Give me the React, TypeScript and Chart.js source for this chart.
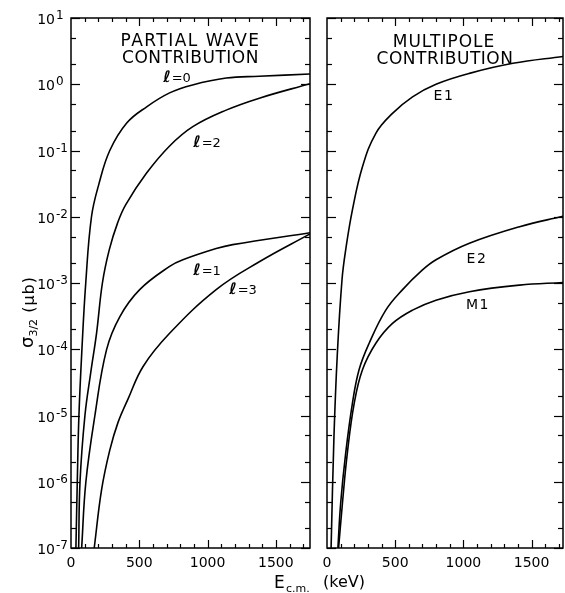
import React, { useEffect, useRef } from 'react';
import { Chart, registerables } from 'chart.js';

Chart.register(...registerables);

// ---- Data: E_cm (keV) vs sigma_3/2 (microbarn) ----
// Partial wave contributions
const L0_E = [36, 46, 58, 80, 108, 150, 205, 284, 408, 554, 722, 890, 1137, 1378, 1750];
const L0_S = [1e-7, 1e-6, 1e-5, 1e-4, 1e-3, 1e-2, 0.0316, 0.1, 0.26, 0.457, 0.741, 0.977, 1.24, 1.32, 1.43];
const L2_E = [56, 66, 102, 144, 187, 230, 280, 340, 400, 552, 722, 892, 1136, 1379, 1750];
const L2_S = [1e-7, 1e-6, 1e-5, 4.37e-5, 1.74e-4, 1e-3, 3.16e-3, 7.94e-3, 0.0151, 0.0452, 0.117, 0.229, 0.407, 0.617, 1.02];
const L1_E = [78, 109, 175, 260, 357, 503, 722, 819, 1063, 1184, 1750];
const L1_S = [1e-7, 1e-6, 1e-5, 9.8e-5, 3.09e-4, 7.94e-4, 1.78e-3, 2.24e-3, 3.31e-3, 3.8e-3, 5.75e-3];
const L3_E = [170, 224, 284, 345, 418, 528, 722, 1063, 1379, 1750];
const L3_S = [1e-7, 7.6e-7, 3.0e-6, 7.94e-6, 1.78e-5, 5.5e-5, 1.74e-4, 7.94e-4, 2.09e-3, 5.5e-3];

// Multipole contributions
const E1_E = [30, 51, 76, 110, 137, 186, 260, 358, 480, 627, 799, 1044, 1363, 1730];
const E1_S = [1e-7, 4.8e-6, 8.7e-5, 1.12e-3, 3.16e-3, 0.0126, 0.0569, 0.182, 0.363, 0.646, 1.0, 1.46, 2.07, 2.63];
const E2_E = [80, 100, 137, 186, 235, 309, 431, 554, 690, 799, 1044, 1412, 1730];
const E2_S = [1e-7, 4.7e-7, 2.7e-6, 1.51e-5, 4.9e-5, 1.23e-4, 3.89e-4, 7.94e-4, 1.51e-3, 2.24e-3, 3.98e-3, 7.08e-3, 0.0102];
const M1_E = [85, 113, 149, 199, 260, 358, 480, 627, 799, 1044, 1412, 1730];
const M1_S = [1e-7, 4.7e-7, 2.7e-6, 1.51e-5, 4.9e-5, 1.23e-4, 2.45e-4, 3.89e-4, 5.5e-4, 7.4e-4, 9.3e-4, 1.02e-3];

// Axes
const Y_MIN = 1e-7;
const Y_MAX = 10;
const Y_EXPONENTS = [1, 0, -1, -2, -3, -4, -5, -6, -7];
const X_TICKS = [0, 500, 1000, 1500];
const X_MAX_LEFT = 1750;
const X_MAX_RIGHT = 1730;

// Text
const LEFT_TITLE = ['PARTIAL WAVE', 'CONTRIBUTION'];
const RIGHT_TITLE = ['MULTIPOLE', 'CONTRIBUTION'];
const LEFT_LABELS = [
  { l: '0', x: 177, y: 82 },
  { l: '2', x: 207, y: 147 },
  { l: '1', x: 207, y: 275 },
  { l: '3', x: 243, y: 294 },
];
const RIGHT_LABELS = [
  { t: 'E1', x: 444, y: 100 },
  { t: 'E2', x: 477, y: 263 },
  { t: 'M1', x: 478, y: 309 },
];

const FONT = '"DejaVu Sans", "Liberation Sans", sans-serif';

function line(ctx: CanvasRenderingContext2D, x1: number, y1: number, x2: number, y2: number) {
  ctx.beginPath();
  ctx.moveTo(x1, y1);
  ctx.lineTo(x2, y2);
  ctx.stroke();
}

function frameAndTicks(chart: any, xMax: number) {
  const { ctx, chartArea: a, scales } = chart;
  const x = scales.x;
  const y = scales.y;
  ctx.save();
  ctx.strokeStyle = '#000';
  ctx.lineWidth = 1.5;
  ctx.strokeRect(a.left, a.top, a.right - a.left, a.bottom - a.top);
  ctx.lineWidth = 1.2;
  for (let d = -7; d <= 1; d++) {
    const py = Math.round(y.getPixelForValue(Math.pow(10, d))) + 0.5;
    line(ctx, a.left, py, a.left + 9, py);
    line(ctx, a.right - 9, py, a.right, py);
    if (d < 1) {
      for (const m of [2, 5]) {
        const p = Math.round(y.getPixelForValue(m * Math.pow(10, d))) + 0.5;
        line(ctx, a.left, p, a.left + 5, p);
        line(ctx, a.right - 5, p, a.right, p);
      }
    }
  }
  for (let e = 100; e < xMax; e += 100) {
    const px = Math.round(x.getPixelForValue(e)) + 0.5;
    const len = e % 500 === 0 ? 8 : 4;
    line(ctx, px, a.bottom, px, a.bottom - len);
    line(ctx, px, a.top, px, a.top + len);
  }
  ctx.fillStyle = '#000';
  ctx.font = `14px ${FONT}`;
  ctx.textAlign = 'center';
  ctx.textBaseline = 'alphabetic';
  for (const t of X_TICKS) {
    ctx.fillText(String(t), x.getPixelForValue(t), 567);
  }
  ctx.restore();
}

const leftDecor = {
  id: 'leftDecor',
  afterDatasetsDraw(chart: any) {
    frameAndTicks(chart, X_MAX_LEFT);
    const { ctx, chartArea: a, scales } = chart;
    const y = scales.y;
    const cx = (a.left + a.right) / 2;
    ctx.save();
    ctx.fillStyle = '#000';
    // y tick labels with superscripts
    for (const d of Y_EXPONENTS) {
      const py = y.getPixelForValue(Math.pow(10, d));
      ctx.font = `14px ${FONT}`;
      ctx.textAlign = 'right';
      ctx.textBaseline = 'alphabetic';
      ctx.fillText('10', 55, py + 6);
      ctx.font = `12px ${FONT}`;
      ctx.textAlign = 'left';
      ctx.fillText(d < 0 ? '-' + Math.abs(d) : String(d), 56, py + 1);
    }
    // titles
    ctx.textAlign = 'center';
    ctx.font = `17px ${FONT}`;
    (ctx as any).letterSpacing = '1.5px';
    ctx.fillText(LEFT_TITLE[0], cx, 46);
    (ctx as any).letterSpacing = '0.5px';
    ctx.fillText(LEFT_TITLE[1], cx, 63);
    (ctx as any).letterSpacing = '0px';
    // curve labels
    for (const lb of LEFT_LABELS) {
      ctx.font = `italic bold 16px ${FONT}`;
      const w1 = ctx.measureText('ℓ').width;
      ctx.font = `13px ${FONT}`;
      const rest = '=' + lb.l;
      const w2 = ctx.measureText(rest).width;
      const x0 = lb.x - (w1 + w2 + 1) / 2;
      ctx.textAlign = 'left';
      ctx.font = `italic bold 16px ${FONT}`;
      ctx.fillText('ℓ', x0, lb.y);
      ctx.font = `13px ${FONT}`;
      ctx.fillText(rest, x0 + w1 + 1, lb.y);
    }
    // y axis title
    ctx.save();
    ctx.translate(34, 312);
    ctx.rotate(-Math.PI / 2);
    const f1 = `18px ${FONT}`;
    const f2 = `11px ${FONT}`;
    const f3 = `16px ${FONT}`;
    ctx.font = f1;
    const wa = ctx.measureText('σ').width;
    ctx.font = f2;
    const wb = ctx.measureText('3/2').width;
    ctx.font = f3;
    (ctx as any).letterSpacing = '1px';
    const wc = ctx.measureText(' (μb)').width;
    (ctx as any).letterSpacing = '0px';
    let sx = -(wa + wb + wc) / 2;
    ctx.textAlign = 'left';
    ctx.font = f1;
    ctx.fillText('σ', sx, -1);
    sx += wa;
    ctx.font = f2;
    ctx.fillText('3/2', sx, 3);
    sx += wb;
    ctx.font = f3;
    (ctx as any).letterSpacing = '1px';
    ctx.fillText(' (μb)', sx, 0);
    (ctx as any).letterSpacing = '0px';
    ctx.restore();
    // x axis title
    ctx.textAlign = 'left';
    ctx.font = `17px ${FONT}`;
    ctx.fillText('E', 274, 588);
    ctx.font = `11px ${FONT}`;
    ctx.fillText('c.m.', 286, 592);
    ctx.font = `16px ${FONT}`;
    ctx.fillText('(keV)', 323, 587);
    ctx.restore();
  },
};

const rightDecor = {
  id: 'rightDecor',
  afterDatasetsDraw(chart: any) {
    frameAndTicks(chart, X_MAX_RIGHT);
    const { ctx, chartArea: a } = chart;
    const cx = (a.left + a.right) / 2;
    ctx.save();
    ctx.fillStyle = '#000';
    ctx.textAlign = 'center';
    ctx.textBaseline = 'alphabetic';
    ctx.font = `17px ${FONT}`;
    (ctx as any).letterSpacing = '1px';
    ctx.fillText(RIGHT_TITLE[0], cx - 1, 47);
    (ctx as any).letterSpacing = '0.5px';
    ctx.fillText(RIGHT_TITLE[1], cx, 64);
    (ctx as any).letterSpacing = '1.5px';
    ctx.font = `14px ${FONT}`;
    for (const lb of RIGHT_LABELS) ctx.fillText(lb.t, lb.x, lb.y);
    (ctx as any).letterSpacing = '0px';
    ctx.restore();
  },
};

function series(E: number[], S: number[]) {
  return {
    data: E.map((e, i) => ({ x: e, y: S[i] })),
    showLine: true,
    borderColor: '#000',
    borderWidth: 1.6,
    pointRadius: 0,
    fill: false,
    tension: 0.4,
    cubicInterpolationMode: 'default' as const,
  };
}

function makeConfig(datasets: any[], padding: any, xMax: number, decor: any): any {
  return {
    type: 'scatter',
    data: { datasets },
    options: {
      responsive: false,
      animation: false,
      devicePixelRatio: 1,
      events: [],
      layout: { padding },
      plugins: { legend: { display: false }, tooltip: { enabled: false } },
      scales: {
        x: { type: 'linear', min: 0, max: xMax, display: false },
        y: { type: 'logarithmic', min: Y_MIN, max: Y_MAX, display: false },
      },
    },
    plugins: [decor],
  };
}

export default function App() {
  const leftRef = useRef<HTMLCanvasElement>(null);
  const rightRef = useRef<HTMLCanvasElement>(null);

  useEffect(() => {
    const left = new Chart(
      leftRef.current as HTMLCanvasElement,
      makeConfig(
        [series(L0_E, L0_S), series(L2_E, L2_S), series(L1_E, L1_S), series(L3_E, L3_S)],
        { left: 71, right: 565 - 310, top: 18, bottom: 45 },
        X_MAX_LEFT,
        leftDecor
      )
    );
    const right = new Chart(
      rightRef.current as HTMLCanvasElement,
      makeConfig(
        [series(E1_E, E1_S), series(E2_E, E2_S), series(M1_E, M1_S)],
        { left: 327, right: 2, top: 18, bottom: 45 },
        X_MAX_RIGHT,
        rightDecor
      )
    );
    return () => {
      left.destroy();
      right.destroy();
    };
  }, []);

  const cs: React.CSSProperties = { position: 'absolute', left: 0, top: 0, width: 565, height: 593 };
  return (
    <div style={{ position: 'absolute', left: 0, top: 0, width: 565, height: 593, background: '#fff' }}>
      <canvas ref={leftRef} width={565} height={593} style={cs} />
      <canvas ref={rightRef} width={565} height={593} style={cs} />
    </div>
  );
}
